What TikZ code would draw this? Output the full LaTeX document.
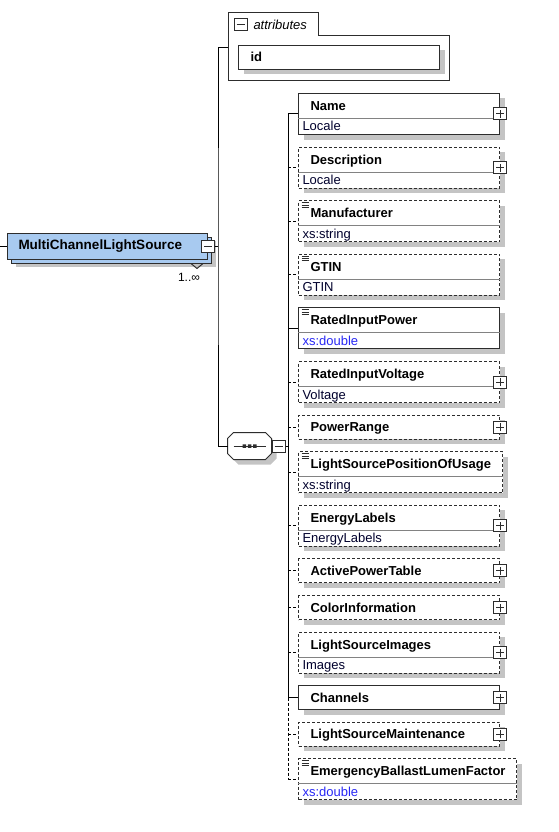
\documentclass[tikz,border=0pt]{standalone}
\usepackage{fontspec}
\setmainfont{Liberation Sans}
\usetikzlibrary{positioning, shapes.multipart, shadows}
\definecolor{rootfill}{RGB}{168,202,240}
\definecolor{boxline}{RGB}{45,45,45}
\definecolor{splitcol}{RGB}{130,130,130}
\definecolor{typecol}{RGB}{0,0,45}
\definecolor{xscol}{RGB}{40,40,245}
\definecolor{shadowcol}{RGB}{196,196,196}
\newcommand{\headpart}{\rule[-7.5pt]{0pt}{24pt}\hspace*{8pt}\bfseries}
\newcommand{\typepart}{\rule[-3pt]{0pt}{15pt}\color{typecol}}

\begin{document}
\begin{tikzpicture}[
			x=1pt, y=-1pt,
			line width=1pt,
			font=\fontsize{13}{15}\selectfont,
			node distance=11.6pt,
			element/.style={
				rectangle,
				draw=boxline,
				fill=white,
				text width=193pt,
				align=left,
				inner xsep=4pt,
				inner ysep=0pt,
				general shadow={fill=shadowcol, shadow xshift=5pt, shadow yshift=-5pt}
			},
			typed/.style={
				rectangle split,
				rectangle split parts=2,
				rectangle split draw splits=false
			},
			optional/.style={
				dash pattern=on 3pt off 2pt
			},
			documented/.style={
				path picture={
					\draw[solid, line width=0.9pt]
					([shift={(3pt,-2pt)}]path picture bounding box.north west) -- ++(7pt,0pt)
					([shift={(3pt,-4.3pt)}]path picture bounding box.north west) -- ++(7pt,0pt)
					([shift={(3pt,-6.6pt)}]path picture bounding box.north west) -- ++(7pt,0pt);
				}
			},
			rootelem/.style={
				rectangle,
				draw=boxline,
				fill=rootfill,
				anchor=west,
				text width=178pt,
				align=left,
				inner xsep=11pt,
				minimum height=26pt,
				font=\fontsize{13.5}{15}\selectfont\bfseries,
				general shadow={fill=shadowcol, shadow xshift=8pt, shadow yshift=-8pt},
				general shadow={fill=rootfill, draw=boxline, line width=1pt, shadow xshift=4pt, shadow yshift=-4pt}
			},
			sequence/.style={
				rectangle,
				draw=none,
				minimum width=43pt,
				minimum height=26pt,
				inner sep=0pt
			},
			seqline/.style={
				draw=boxline,
				fill=white,
				general shadow={fill=shadowcol, shadow xshift=5pt, shadow yshift=-5pt}
			},
			minusbox/.style={
				rectangle,
				draw=boxline,
				fill=white,
				minimum width=13pt,
				minimum height=12pt,
				inner sep=0pt,
				path picture={
					\draw ([xshift=-4pt]path picture bounding box.center) -- ([xshift=4pt]path picture bounding box.center);
				}
			},
			plusbox/.style={
				minusbox,
				path picture={
					\draw ([xshift=-4pt]path picture bounding box.center) -- ([xshift=4pt]path picture bounding box.center)
					([yshift=-4pt]path picture bounding box.center) -- ([yshift=4pt]path picture bounding box.center);
				}
			},
			splitline/.style={
				draw=splitcol
			},
			conn/.style={
				draw=black
			}
			]
			\useasboundingbox (0,0) rectangle (558,832);
			
			% Bus points
			\coordinate (inlet) at (0,246);
			\coordinate (rootbus) at (218,246);
			\coordinate (attrin) at (228,48);
			\coordinate (seqbus) at (288,446);
			
			% Root element
			\node[rootelem] (mcls) at (7,246) {MultiChannelLightSource};
			\node[minusbox] (mclsMinus) at (mcls.east) {};
			\draw[boxline] ([xshift=-17pt, yshift=-4pt]mcls.south east) -- ++(6,5) -- ++(6,-5);
			\node[font=\fontsize{12}{14}\selectfont, inner sep=0pt] (mult) at (189,277) {1..∞};
			
			% Attributes
			\draw[boxline, fill=white] (228,13) -- (318,13) -- (318,36) -- (449,36) -- (449,81) -- (228,81) -- cycle;
			\node[minusbox] (attrMinus) at (240.5,25) {};
			\node[anchor=west, inner sep=0pt, font=\fontsize{13}{15}\selectfont\itshape] (attrTitle) at (253,25) {attributes};
			\node[element, anchor=north west] (id) at (238,45) {\headpart id};
			
			% Sequence
			\node[sequence] (seq) at (249.5,446) {};
			\draw[seqline] ([xshift=6pt]seq.north west) -- ([xshift=-6pt]seq.north east) -- ([yshift=-6pt]seq.north east)
			-- ([yshift=6pt]seq.south east) -- ([xshift=-6pt]seq.south east) -- ([xshift=6pt]seq.south west)
			-- ([yshift=6pt]seq.south west) -- ([yshift=-6pt]seq.north west) -- cycle;
			\draw[boxline] ([xshift=-16pt]seq.center) -- ([xshift=16pt]seq.center);
			\fill[boxline] ([shift={(-7pt,-1.75pt)}]seq.center) rectangle ++(3.5pt,3.5pt)
			([shift={(-1.75pt,-1.75pt)}]seq.center) rectangle ++(3.5pt,3.5pt)
			([shift={(3.5pt,-1.75pt)}]seq.center) rectangle ++(3.5pt,3.5pt);
			\node[minusbox, anchor=west] (seqMinus) at (seq.east) {};
			
			% Child elements
			\node[element, typed, anchor=north west] (name) at (298,93) {\headpart Name\nodepart{two}\typepart Locale};
			\node[element, typed, optional, below=of name.south west, anchor=north west] (desc) {\headpart Description\nodepart{two}\typepart Locale};
			\node[element, typed, optional, documented, below=of desc.south west, anchor=north west] (manu) {\headpart Manufacturer\nodepart{two}\typepart xs:string};
			\node[element, typed, optional, documented, below=of manu.south west, anchor=north west] (gtin) {\headpart GTIN\nodepart{two}\typepart GTIN};
			\node[element, typed, documented, below=of gtin.south west, anchor=north west] (rip) {\headpart RatedInputPower\nodepart{two}\typepart\color{xscol}xs:double};
			\node[element, typed, optional, below=of rip.south west, anchor=north west] (riv) {\headpart RatedInputVoltage\nodepart{two}\typepart Voltage};
			\node[element, optional, below=of riv.south west, anchor=north west] (prange) {\headpart PowerRange};
			\node[element, typed, optional, documented, text width=196pt, below=of prange.south west, anchor=north west] (lspou) {\headpart LightSourcePositionOfUsage\nodepart{two}\typepart xs:string};
			\node[element, typed, optional, below=of lspou.south west, anchor=north west] (elab) {\headpart EnergyLabels\nodepart{two}\typepart EnergyLabels};
			\node[element, optional, below=of elab.south west, anchor=north west] (apt) {\headpart ActivePowerTable};
			\node[element, optional, below=of apt.south west, anchor=north west] (cinfo) {\headpart ColorInformation};
			\node[element, typed, optional, below=of cinfo.south west, anchor=north west] (lsimg) {\headpart LightSourceImages\nodepart{two}\typepart Images};
			\node[element, below=of lsimg.south west, anchor=north west] (chan) {\headpart Channels};
			\node[element, optional, below=of chan.south west, anchor=north west] (lsm) {\headpart LightSourceMaintenance};
			\node[element, typed, optional, documented, text width=210pt, below=of lsm.south west, anchor=north west] (ebl) {\headpart EmergencyBallastLumenFactor\nodepart{two}\typepart\color{xscol}xs:double};
			
			% Split lines
			\path[splitline]
			(name.text split west) edge (name.text split east)
			(desc.text split west) edge (desc.text split east)
			(manu.text split west) edge (manu.text split east)
			(gtin.text split west) edge (gtin.text split east)
			(rip.text split west) edge (rip.text split east)
			(riv.text split west) edge (riv.text split east)
			(lspou.text split west) edge (lspou.text split east)
			(elab.text split west) edge (elab.text split east)
			(lsimg.text split west) edge (lsimg.text split east)
			(ebl.text split west) edge (ebl.text split east);
			
			% Expand buttons
			\node[plusbox] (namePlus) at (name.east) {};
			\node[plusbox] (descPlus) at (desc.east) {};
			\node[plusbox] (rivPlus) at (riv.east) {};
			\node[plusbox] (prangePlus) at (prange.east) {};
			\node[plusbox] (elabPlus) at (elab.east) {};
			\node[plusbox] (aptPlus) at (apt.east) {};
			\node[plusbox] (cinfoPlus) at (cinfo.east) {};
			\node[plusbox] (lsimgPlus) at (lsimg.east) {};
			\node[plusbox] (chanPlus) at (chan.east) {};
			\node[plusbox] (lsmPlus) at (lsm.east) {};
			
			% Connectors
			\path[conn]
			(inlet) edge (mcls.west)
			(mclsMinus.east) edge (rootbus)
			(seqMinus.east) edge (seqbus);
			\draw[conn] (attrin) -| (rootbus) |- (seq.west);
			\draw[conn] (name.west -| seqbus) -- (chan.west -| seqbus);
			\draw[conn, optional] (chan.west -| seqbus) -- (ebl.west -| seqbus);
			\path[conn]
			(name.west -| seqbus) edge (name.west)
			(desc.west -| seqbus) edge[optional] (desc.west)
			(manu.west -| seqbus) edge[optional] (manu.west)
			(gtin.west -| seqbus) edge[optional] (gtin.west)
			(rip.west -| seqbus) edge (rip.west)
			(riv.west -| seqbus) edge[optional] (riv.west)
			(prange.west -| seqbus) edge[optional] (prange.west)
			(lspou.west -| seqbus) edge[optional] (lspou.west)
			(elab.west -| seqbus) edge[optional] (elab.west)
			(apt.west -| seqbus) edge[optional] (apt.west)
			(cinfo.west -| seqbus) edge[optional] (cinfo.west)
			(lsimg.west -| seqbus) edge[optional] (lsimg.west)
			(chan.west -| seqbus) edge (chan.west)
			(lsm.west -| seqbus) edge[optional] (lsm.west)
			(ebl.west -| seqbus) edge[optional] (ebl.west);
		\end{tikzpicture}
\end{document}
